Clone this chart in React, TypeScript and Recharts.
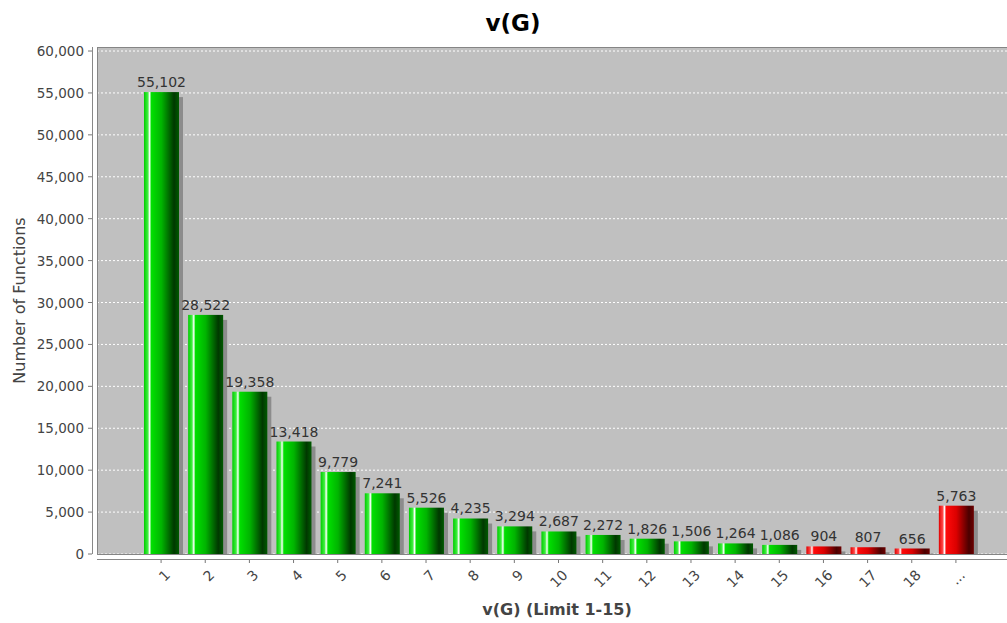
import React from 'react';
import { BarChart, Bar, XAxis, YAxis, CartesianGrid, LabelList } from 'recharts';

// ---- data ----
const categories = ['1', '2', '3', '4', '5', '6', '7', '8', '9', '10', '11', '12', '13', '14', '15', '16', '17', '18', '...'];
const functionCounts = [55102, 28522, 19358, 13418, 9779, 7241, 5526, 4235, 3294, 2687, 2272, 1826, 1506, 1264, 1086, 904, 807, 656, 5763];
const yTicks = [0, 5000, 10000, 15000, 20000, 25000, 30000, 35000, 40000, 45000, 50000, 55000, 60000];
const LIMIT = 15; // categories beyond the limit are drawn in red
const Y_MAX = 60480;

const data = categories.map((c, i) => ({ name: c, value: functionCounts[i], over: i >= LIMIT }));

// ---- layout ----
const W = 1007;
const H = 623;
const PLOT_LEFT = 97;
const PLOT_TOP = 47;
const PLOT_BOTTOM = 554;
const Y_AXIS_X = 92;
const X_AXIS_Y = 559;
const FONT = '"DejaVu Sans", Verdana, sans-serif';

const fmt = (v: number) => v.toLocaleString('en-US');

function BarShape(props: any) {
  const { x, y, width, height, payload } = props;
  if (!height || height <= 0) return null;
  const fill = payload.over ? 'url(#redGrad)' : 'url(#greenGrad)';
  const sh = Math.max(0, height - 5);
  return (
    <g>
      <rect x={x + 4} y={y + 5} width={width} height={sh} fill="#8c8c8c" />
      <rect x={x} y={y} width={width} height={height} fill={fill} />
    </g>
  );
}

function YTick(props: any) {
  const { y, payload } = props;
  return (
    <g>
      <line x1={Y_AXIS_X - 4} x2={Y_AXIS_X} y1={y} y2={y} stroke="#777" />
      <text x={Y_AXIS_X - 8} y={y} textAnchor="end" dominantBaseline="central" fontSize={13.5} fill="#444" fontFamily={FONT}>
        {fmt(payload.value)}
      </text>
    </g>
  );
}

function XTick(props: any) {
  const { x, payload } = props;
  const px = x + 10;
  const py = X_AXIS_Y + 17;
  return (
    <g>
      <line x1={x} x2={x} y1={X_AXIS_Y} y2={X_AXIS_Y + 4} stroke="#777" />
      <text x={px} y={py} transform={`rotate(-45, ${px}, ${py})`} textAnchor="end" fontSize={14} fill="#444" fontFamily={FONT}>
        {payload.value}
      </text>
    </g>
  );
}

function YTitle(props: any) {
  const vb = props.viewBox || { x: 0, y: PLOT_TOP, width: PLOT_LEFT, height: PLOT_BOTTOM - PLOT_TOP };
  const cx = 19;
  const cy = vb.y + vb.height / 2;
  return (
    <text x={cx} y={cy} transform={`rotate(-90, ${cx}, ${cy})`} textAnchor="middle" dominantBaseline="central" fontSize={16} fill="#444" fontFamily={FONT}>
      Number of Functions
    </text>
  );
}

function XTitle(props: any) {
  return (
    <text x={557} y={615} textAnchor="middle" fontSize={16} fontWeight="bold" fill="#444" fontFamily={FONT}>
      v(G) (Limit 1-15)
    </text>
  );
}

export default function App() {
  return (
    <div style={{ position: 'absolute', left: 0, top: 0, width: W, height: H, background: '#fff', fontFamily: FONT }}>
      <BarChart
        width={W}
        height={H}
        data={data}
        margin={{ top: PLOT_TOP, right: 0, left: 0, bottom: 0 }}
      >
        <defs>
          <linearGradient id="greenGrad" x1="0" y1="0" x2="1" y2="0">
            <stop offset="0" stopColor="#00cc00" />
            <stop offset="0.11" stopColor="#40f040" />
            <stop offset="0.16" stopColor="#ffffff" />
            <stop offset="0.21" stopColor="#00e000" />
            <stop offset="0.5" stopColor="#00b400" />
            <stop offset="0.86" stopColor="#003800" />
            <stop offset="1" stopColor="#005a00" />
          </linearGradient>
          <linearGradient id="redGrad" x1="0" y1="0" x2="1" y2="0">
            <stop offset="0" stopColor="#e00000" />
            <stop offset="0.11" stopColor="#ff4848" />
            <stop offset="0.16" stopColor="#ffffff" />
            <stop offset="0.21" stopColor="#ff0a0a" />
            <stop offset="0.5" stopColor="#dc0000" />
            <stop offset="0.86" stopColor="#4a0000" />
            <stop offset="1" stopColor="#6c0000" />
          </linearGradient>
        </defs>
        <CartesianGrid fill="#c0c0c0" stroke="#ffffff" strokeDasharray="2 2" vertical={false} horizontal={true} />
        <XAxis
          dataKey="name"
          type="category"
          height={H - PLOT_BOTTOM}
          padding={{ left: 42, right: 29 }}
          axisLine={false}
          tickLine={false}
          tickSize={5}
          tickMargin={0}
          interval={0}
          tick={<XTick />}
          label={<XTitle />}
        />
        <YAxis
          type="number"
          width={PLOT_LEFT}
          domain={[0, Y_MAX]}
          ticks={yTicks}
          interval={0}
          allowDataOverflow
          axisLine={false}
          tickLine={false}
          tickSize={5}
          tickMargin={0}
          tick={<YTick />}
          label={<YTitle />}
        />
        <Bar dataKey="value" barSize={35} isAnimationActive={false} shape={<BarShape />}>
          <LabelList dataKey="value" position="top" offset={5} formatter={(v: any) => fmt(Number(v))} fill="#333" fontSize={14} fontFamily={FONT} />
        </Bar>
      </BarChart>
      <svg width={W} height={H} style={{ position: 'absolute', left: 0, top: 0, pointerEvents: 'none' }}>
        <text x={513} y={31} textAnchor="middle" fontSize={23} fontWeight="bold" fill="#000" fontFamily={FONT}>v(G)</text>
        <rect x={PLOT_LEFT + 0.5} y={PLOT_TOP + 0.5} width={W - PLOT_LEFT} height={PLOT_BOTTOM - PLOT_TOP} fill="none" stroke="#858585" />
        <line x1={Y_AXIS_X + 0.5} x2={Y_AXIS_X + 0.5} y1={PLOT_TOP} y2={PLOT_BOTTOM} stroke="#888" />
        <line x1={PLOT_LEFT} x2={W} y1={X_AXIS_Y + 0.5} y2={X_AXIS_Y + 0.5} stroke="#888" />
      </svg>
    </div>
  );
}
